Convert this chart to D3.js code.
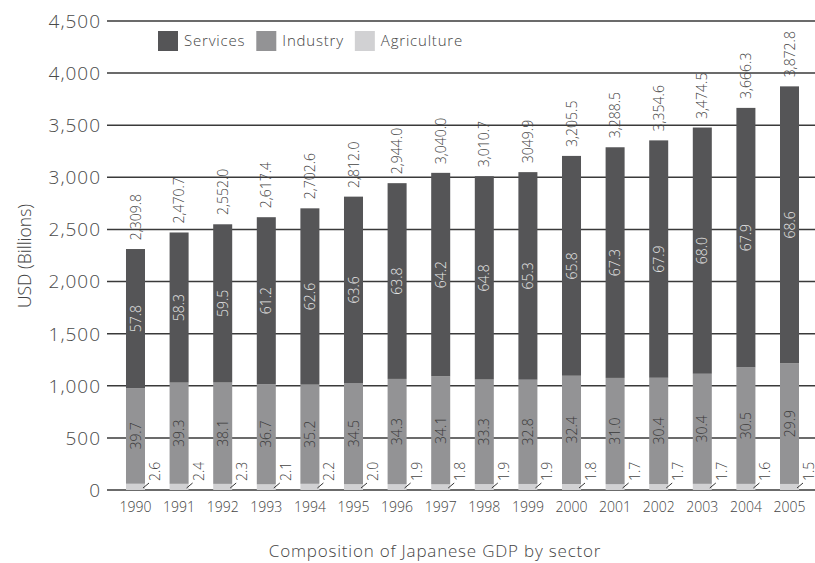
<!DOCTYPE html>
<html>
<head>
<meta charset="utf-8">
<script src="https://cdn.jsdelivr.net/npm/d3@7"></script>
<style>
  body { margin: 0; background: #fff; }
  svg text { font-family: "Open Sans", "Lato", sans-serif; font-weight: 300; }
</style>
</head>
<body>
<div id="chart"></div>
<script>
var years = ["1990","1991","1992","1993","1994","1995","1996","1997","1998","1999","2000","2001","2002","2003","2004","2005"];
var totals = [2309.8, 2470.7, 2552.0, 2617.4, 2702.6, 2812.0, 2944.0, 3040.0, 3010.7, 3049.9, 3205.5, 3288.5, 3354.6, 3474.5, 3666.3, 3872.8];
var totalLabels = ["2,309.8","2,470.7","2,552.0","2,617.4","2,702.6","2,812.0","2,944.0","3,040.0","3,010.7","3049.9","3,205.5","3,288.5","3,354.6","3,474.5","3,666.3","3,872.8"];
var servicesPct = [57.8, 58.3, 59.5, 61.2, 62.6, 63.6, 63.8, 64.2, 64.8, 65.3, 65.8, 67.3, 67.9, 68.0, 67.9, 68.6];
var industryPct = [39.7, 39.3, 38.1, 36.7, 35.2, 34.5, 34.3, 34.1, 33.3, 32.8, 32.4, 31.0, 30.4, 30.4, 30.5, 29.9];
var agriculturePct = [2.6, 2.4, 2.3, 2.1, 2.2, 2.0, 1.9, 1.8, 1.9, 1.9, 1.8, 1.7, 1.7, 1.7, 1.6, 1.5];
var sectors = ["Services", "Industry", "Agriculture"];
var yTicks = [0, 500, 1000, 1500, 2000, 2500, 3000, 3500, 4000, 4500];

var colors = {Services: "#555557", Industry: "#939395", Agriculture: "#d1d1d3"};

var W = 815, H = 563;
var svg = d3.select("#chart").append("svg").attr("width", W).attr("height", H);

var x = d3.scaleBand().domain(years).range([101.4, 823.6]).padding(0.564);
var y = d3.scaleLinear().domain([0, 4500]).range([490, 21]);

// one row per year, segment values from the shares
var rows = years.map(function(yr, i) {
  return {
    year: yr,
    total: totals[i],
    label: totalLabels[i],
    Agriculture: totals[i] * agriculturePct[i] / 100,
    Industry: totals[i] * industryPct[i] / 100,
    Services: totals[i] * servicesPct[i] / 100,
    pAgri: agriculturePct[i], pInd: industryPct[i], pSer: servicesPct[i]
  };
});

// grid lines
svg.append("g").selectAll("line").data(yTicks).enter().append("line")
  .attr("x1", 107).attr("x2", W)
  .attr("y1", function(d) { return y(d); }).attr("y2", function(d) { return y(d); })
  .attr("stroke", "#3a3a3a").attr("stroke-width", 1.5);

// y tick labels
svg.append("g").selectAll("text").data(yTicks).enter().append("text")
  .attr("x", 101).attr("y", function(d) { return y(d); })
  .attr("dy", "0.36em").attr("text-anchor", "end")
  .attr("font-size", 19).attr("letter-spacing", 1).attr("fill", "#4a4a4a")
  .text(d3.format(","));

var stack = d3.stack().keys(["Agriculture", "Industry", "Services"]);
var series = stack(rows);

svg.append("g").selectAll("g").data(series).enter().append("g")
  .attr("fill", function(s) { return colors[s.key]; })
  .selectAll("rect").data(function(s) { return s; }).enter().append("rect")
  .attr("x", function(d) { return x(d.data.year); })
  .attr("width", x.bandwidth())
  .attr("y", function(d) { return y(d[1]); })
  .attr("height", function(d) { return y(d[0]) - y(d[1]); });

var ser = series[2], ind = series[1], agr = series[0];

// services % labels
svg.append("g").selectAll("text").data(ser).enter().append("text")
  .attr("transform", function(d) {
    return "translate(" + (x(d.data.year) + x.bandwidth() / 2) + "," + (y(d[0]) + y(d[1])) / 2 + ") rotate(-90)";
  })
  .attr("text-anchor", "middle").attr("dy", "0.36em")
  .attr("font-size", 14).attr("fill", "#e6e6e6")
  .text(function(d) { return d.data.pSer.toFixed(1); });

// industry % labels
svg.append("g").selectAll("text").data(ind).enter().append("text")
  .attr("transform", function(d) {
    return "translate(" + (x(d.data.year) + x.bandwidth() / 2) + "," + (y(d[0]) + y(d[1])) / 2 + ") rotate(-90)";
  })
  .attr("text-anchor", "middle").attr("dy", "0.36em")
  .attr("font-size", 14).attr("fill", "#3a3a3a")
  .text(function(d) { return d.data.pInd.toFixed(1); });

// agriculture labels with little leader
var agG = svg.append("g");
agG.selectAll("line").data(agr).enter().append("line")
  .attr("x1", function(d) { return x(d.data.year) + x.bandwidth() - 2; })
  .attr("y1", y(0) - 2)
  .attr("x2", function(d) { return x(d.data.year) + x.bandwidth() + 4; })
  .attr("y2", y(0) - 7)
  .attr("stroke", "#333").attr("stroke-width", 1);
agG.selectAll("text").data(agr).enter().append("text")
  .attr("transform", function(d) {
    return "translate(" + (x(d.data.year) + x.bandwidth() + 10) + "," + (y(0) - 9) + ") rotate(-90)";
  })
  .attr("text-anchor", "start").attr("dy", "0.36em")
  .attr("font-size", 14).attr("fill", "#444")
  .text(function(d) { return d.data.pAgri.toFixed(1); });

// totals above bars
svg.append("g").selectAll("text").data(rows).enter().append("text")
  .attr("transform", function(d) {
    return "translate(" + (x(d.year) + x.bandwidth() / 2) + "," + (y(d.total) - 9) + ") rotate(-90)";
  })
  .attr("text-anchor", "start").attr("dy", "0.36em")
  .attr("font-size", 14).attr("fill", "#444")
  .text(function(d) { return d.label; });

// year labels
svg.append("g").selectAll("text").data(years).enter().append("text")
  .attr("x", function(d) { return x(d) + x.bandwidth() / 2; })
  .attr("y", 512).attr("text-anchor", "middle")
  .attr("font-size", 14).attr("fill", "#444")
  .text(function(d) { return d; });

// y axis title
svg.append("text")
  .attr("transform", "translate(31,256) rotate(-90)")
  .attr("text-anchor", "middle").attr("font-size", 17.5).attr("fill", "#444")
  .text("USD (Billions)");

// caption
svg.append("text")
  .attr("x", 435).attr("y", 557).attr("text-anchor", "middle")
  .attr("font-size", 17).attr("fill", "#444").attr("letter-spacing", 0.8)
  .text("Composition of Japanese GDP by sector");

// legend
var lx = 158;
sectors.forEach(function(s) {
  svg.append("rect").attr("x", lx).attr("y", 31).attr("width", 20).attr("height", 20).attr("fill", colors[s]);
  var t = svg.append("text").attr("x", lx + 26).attr("y", 46)
    .attr("font-size", 15).attr("fill", "#444").attr("letter-spacing", 0.8).text(s);
  lx = lx + 26 + t.node().getComputedTextLength() + 11;
});
</script>
</body>
</html>
